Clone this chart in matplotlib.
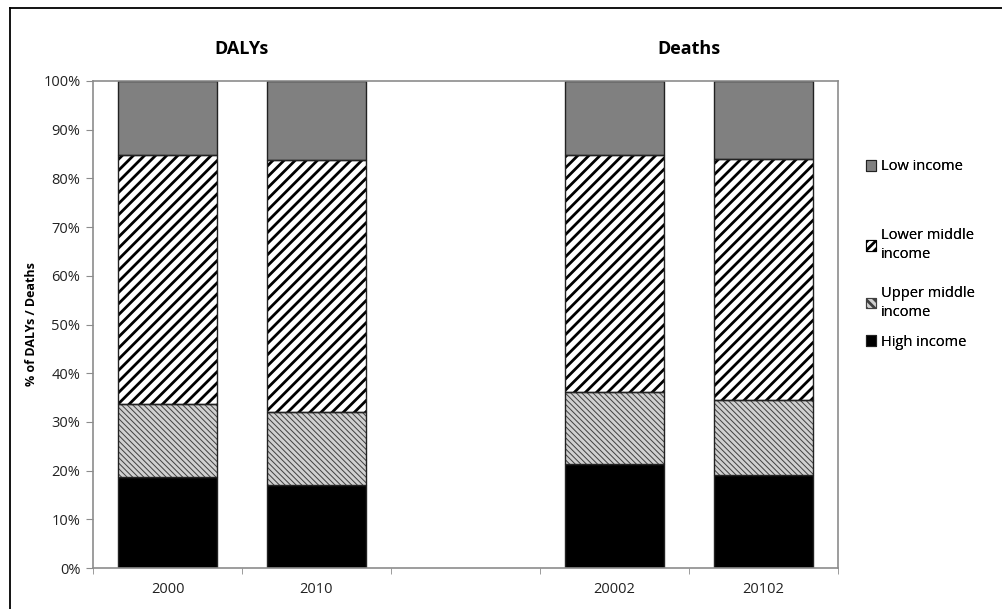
import matplotlib.pyplot as plt
import matplotlib as mpl
from matplotlib.lines import Line2D
from matplotlib.patches import Patch
import numpy as np

### DATA ###
categories = ["2000", "2010", "", "20002", "20102"]
high_income = [18.7, 17.0, 0, 21.4, 19.1]
upper_middle = [14.9, 15.0, 0, 14.8, 15.4]
lower_middle = [51.3, 51.8, 0, 48.7, 49.4]
low_income = [15.1, 16.2, 0, 15.1, 16.1]
group_titles = ["DALYs", "Deaths"]
legend_labels = ["Low income", "Lower middle\nincome", "Upper middle\nincome", "High income"]

### STYLE ###
plt.rcParams['font.family'] = ['Open Sans', 'DejaVu Sans']
bar_width = 0.67
edge = '#222222'
axis_grey = '#8c8c8c'


def hatch_lw(patches, lw):
    for p in patches:
        if hasattr(p, 'set_hatch_linewidth'):
            p.set_hatch_linewidth(lw)


fig = plt.figure(figsize=(10.02, 6.09), dpi=100)
ax = fig.add_axes([93 / 1002, 1 - 568 / 609, 745 / 1002, 487 / 609])

x = np.arange(len(categories))
hi = np.array(high_income)
um = np.array(upper_middle)
lm = np.array(lower_middle)
lo = np.array(low_income)
show = hi > 0

plt.rcParams['hatch.linewidth'] = 0.7
b_hi = ax.bar(x[show], hi[show], bar_width, color='black', edgecolor=edge, linewidth=1)
b_um = ax.bar(x[show], um[show], bar_width, bottom=hi[show], color='#d0d0d0',
              edgecolor='#404040', hatch='\\' * 6, linewidth=0)
hatch_lw(b_um, 0.7)
plt.rcParams['hatch.linewidth'] = 2.0
b_lm = ax.bar(x[show], lm[show], bar_width, bottom=(hi + um)[show], color='white',
              edgecolor='black', hatch='///', linewidth=0)
hatch_lw(b_lm, 2.0)
b_lo = ax.bar(x[show], lo[show], bar_width, bottom=(hi + um + lm)[show],
              color='#808080', edgecolor=edge, linewidth=1)
# outline for the hatched segments
for bars in (b_um, b_lm):
    for r in bars:
        ax.add_patch(plt.Rectangle(r.get_xy(), r.get_width(), r.get_height(),
                                   fill=False, edgecolor=edge, linewidth=1, zorder=3))

ax.set_xlim(-0.5, len(categories) - 0.5)
ax.set_ylim(0, 100)
ax.set_yticks(np.arange(0, 101, 10))
ax.set_yticklabels([f"{v}%" for v in range(0, 101, 10)])
ax.set_xticks(x)
ax.set_xticklabels(categories)
ax.set_xticks(np.arange(-0.5, len(categories)), minor=True)
ax.tick_params(axis='x', which='major', length=0, pad=10, labelsize=10.5, colors='#222222')
ax.tick_params(axis='x', which='minor', length=4, color=axis_grey)
ax.tick_params(axis='y', length=5, color=axis_grey, labelsize=10.5, labelcolor='#222222', pad=4)
for s in ax.spines.values():
    s.set_color(axis_grey)
    s.set_linewidth(1.2)

ax.set_ylabel("% of DALYs / Deaths", fontsize=9, fontweight='bold', labelpad=4)

for xi, t in zip([0.5, 3.5], group_titles):
    ax.text(xi, 106.5, t, ha='center', va='center', fontsize=13, fontweight='bold',
            transform=ax.transData, clip_on=False)

# legend entries, one per income group, stacked top to bottom
handles = [
    Patch(facecolor='#808080', edgecolor=edge, linewidth=0.8),
    Patch(facecolor='white', edgecolor='black', hatch='////', linewidth=0.8),
    Patch(facecolor='#d0d0d0', edgecolor='#404040', hatch='\\\\\\\\', linewidth=0.8),
    Patch(facecolor='black', edgecolor=edge, linewidth=0.8),
]
legend_y = [167, 245, 303, 342]
for h, lab, yy in zip(handles, legend_labels, legend_y):
    leg = fig.legend([h], [lab], loc='center left', bbox_to_anchor=(866 / 1002, 1 - yy / 609),
                     frameon=False, fontsize=10.5, handlelength=0.7, handleheight=0.7,
                     handletextpad=0.35, borderaxespad=0, borderpad=0)
    for t in leg.get_texts():
        t.set_linespacing(1.45)
    fig.add_artist(leg)

# frame lines along the top and left of the figure
fig.add_artist(Line2D([9.5 / 1002, 9.5 / 1002], [0, 1 - 7.5 / 609], color='black', lw=1.3))
fig.add_artist(Line2D([9.5 / 1002, 1], [1 - 7.5 / 609, 1 - 7.5 / 609], color='black', lw=1.3))

fig.savefig("out.png", dpi=100)
